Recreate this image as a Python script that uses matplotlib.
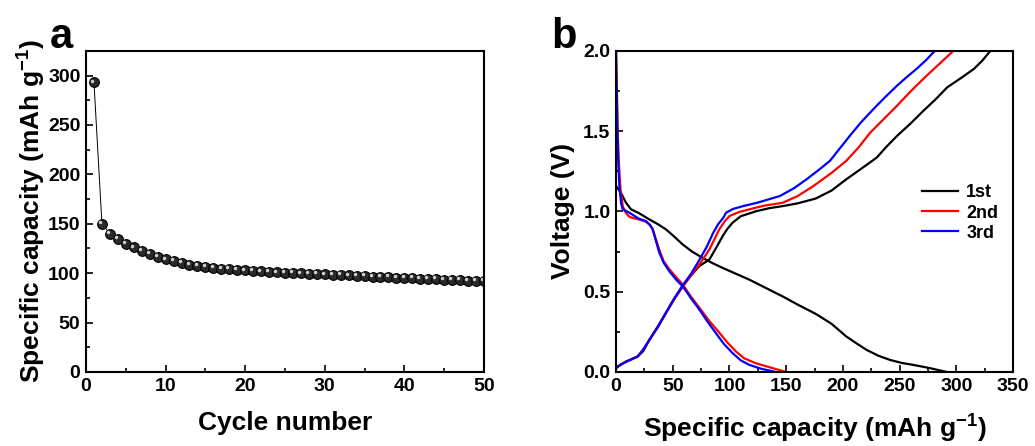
import numpy as np
import matplotlib.pyplot as plt
import matplotlib.transforms as mtransforms
from matplotlib.ticker import MultipleLocator

plt.rcParams['font.family'] = ['Liberation Sans', 'DejaVu Sans']
plt.rcParams['font.weight'] = 'bold'
plt.rcParams['axes.labelweight'] = 'bold'
plt.rcParams['mathtext.fontset'] = 'custom'
plt.rcParams['mathtext.bf'] = 'Liberation Sans:bold'
plt.rcParams['mathtext.rm'] = 'Liberation Sans:bold'

# panel a: cycling
cycles = np.arange(1, 51)
capacity = [293, 150, 140, 134.5, 129.5, 126, 122.5, 119.5, 116.5, 114,
            112, 110, 108.5, 107, 106, 105, 104.5, 104, 103.5, 102.8,
            102.3, 101.8, 101.3, 100.8, 100.4, 100, 99.7, 99.4, 99.1, 98.8,
            98.4, 98, 97.7, 97.3, 97, 96.6, 96.3, 96, 95.6, 95.2,
            94.9, 94.5, 94.2, 93.8, 93.5, 93.1, 92.8, 92.5, 92.1, 91.8]

# panel b: voltage profiles (capacity, voltage)
dis1_cap = [0, 4, 8.8, 13.2, 20, 29.4, 37, 44, 51, 58.8, 67, 76.4, 85, 94, 117.5, 147, 160, 176, 190, 203, 212, 221, 231, 241.5, 252, 262, 276, 291.5]
dis1_v = [1.158, 1.12, 1.054, 1.013, 0.99, 0.95, 0.92, 0.888, 0.845, 0.794, 0.75, 0.71, 0.678, 0.648, 0.575, 0.47, 0.42, 0.362, 0.3, 0.221, 0.178, 0.137, 0.102, 0.075, 0.056, 0.044, 0.025, 0.0]
chg1_cap = [0, 4, 8.8, 19, 24, 29.4, 37, 44, 51, 58.8, 66, 73.5, 82.3, 88, 94, 98, 102.8, 110, 123, 135, 147, 160, 176, 190, 203, 216, 229.8, 238, 247.7, 260, 271, 282, 292, 304, 315.6, 323, 330]
chg1_v = [0.025, 0.045, 0.064, 0.096, 0.13, 0.2, 0.28, 0.367, 0.45, 0.533, 0.6, 0.66, 0.7, 0.77, 0.846, 0.89, 0.93, 0.97, 1.0, 1.02, 1.033, 1.05, 1.08, 1.13, 1.2, 1.265, 1.335, 1.4, 1.47, 1.55, 1.627, 1.7, 1.773, 1.83, 1.888, 1.94, 2.0]

dis2_cap = [0, 0.8, 1.5, 2.5, 4, 6, 8.8, 12, 20, 26.4, 30, 32.3, 35, 38.2, 42, 47, 53, 58.8, 66, 73.5, 82, 91, 98, 105.8, 113, 123.4, 135, 150]
dis2_v = [2.0, 1.75, 1.49, 1.3, 1.13, 1.03, 0.99, 0.965, 0.95, 0.935, 0.915, 0.89, 0.83, 0.76, 0.69, 0.64, 0.59, 0.545, 0.47, 0.4, 0.32, 0.245, 0.185, 0.127, 0.085, 0.054, 0.03, 0.0]
chg2_cap = [0, 4, 8.8, 19, 24, 29.4, 37, 44, 51, 58.8, 66, 73.5, 82.3, 87, 91, 96, 100, 108, 117.5, 130, 147, 160, 174, 190, 203, 214, 224, 236, 247.7, 260, 273.9, 286, 297.4]
chg2_v = [0.025, 0.045, 0.064, 0.096, 0.14, 0.2, 0.285, 0.367, 0.45, 0.533, 0.6, 0.669, 0.763, 0.83, 0.888, 0.94, 0.971, 0.995, 1.013, 1.035, 1.054, 1.095, 1.158, 1.24, 1.315, 1.4, 1.49, 1.575, 1.658, 1.75, 1.846, 1.925, 2.0]

dis3_cap = [0, 0.6, 1.2, 2, 3, 4.5, 5.9, 11.75, 20, 26.4, 30, 32.3, 35, 38.2, 42, 47, 53, 58.8, 66, 73.5, 81, 88, 95, 102.8, 110, 117.5, 128, 141]
dis3_v = [2.0, 1.75, 1.5, 1.3, 1.15, 1.05, 1.013, 0.992, 0.955, 0.94, 0.915, 0.888, 0.82, 0.742, 0.68, 0.627, 0.575, 0.533, 0.46, 0.388, 0.31, 0.242, 0.175, 0.117, 0.072, 0.044, 0.02, 0.0]
chg3_cap = [0, 4, 8.8, 19, 24, 29.4, 37, 44, 51, 58.8, 66, 72, 80, 85.7, 90, 94.5, 97, 103, 112, 125, 144.5, 157, 168, 179, 188.6, 197, 206, 216, 227, 237, 247.7, 256, 265, 273, 281]
chg3_v = [0.025, 0.045, 0.064, 0.096, 0.14, 0.2, 0.285, 0.37, 0.455, 0.54, 0.61, 0.68, 0.78, 0.867, 0.92, 0.96, 0.992, 1.015, 1.033, 1.055, 1.096, 1.145, 1.2, 1.26, 1.315, 1.39, 1.47, 1.555, 1.638, 1.71, 1.783, 1.835, 1.888, 1.94, 2.0]

fig = plt.figure(figsize=(10.35, 4.46), dpi=100)
ax1 = fig.add_axes([0.0831, 0.166, 0.3845, 0.72])
ax2 = fig.add_axes([0.5952, 0.166, 0.3836, 0.72])

for ax in (ax1, ax2):
    for sp in ax.spines.values():
        sp.set_linewidth(1.5)
    ax.tick_params(which='both', direction='in', top=False, right=False,
                   labelsize=14, width=1.2, pad=4)
    ax.tick_params(which='major', length=5)
    ax.tick_params(which='minor', length=3)

# a
ax1.plot(cycles, capacity, color='black', lw=0.7)
ax1.plot(cycles, capacity, 'o', ms=7, mfc='#2a2a2a', mec='black', mew=0.8)
shine = ax1.transData + mtransforms.ScaledTranslation(-1.3 / 72, 1.3 / 72, fig.dpi_scale_trans)
ax1.plot(cycles, capacity, 'o', ms=2.5, mfc='#d0d0d0', mec='none', transform=shine)
ax1.set_xlim(0, 50)
ax1.set_ylim(0, 325)
ax1.xaxis.set_major_locator(MultipleLocator(10))
ax1.xaxis.set_minor_locator(MultipleLocator(5))
ax1.yaxis.set_major_locator(MultipleLocator(50))
ax1.yaxis.set_minor_locator(MultipleLocator(25))
ax1.set_xlabel('Cycle number', fontsize=19, labelpad=12)
ax1.set_ylabel('Specific capacity (mAh g$^{\\mathbf{-1}}$)', fontsize=19, labelpad=1)
fig.text(0.048, 0.892, 'a', fontsize=30, fontweight='bold')

# b
lw = 1.6
ax2.plot(dis1_cap, dis1_v, color='black', lw=lw, label='1st')
ax2.plot(chg1_cap, chg1_v, color='black', lw=lw)
ax2.plot(dis2_cap, dis2_v, color='red', lw=lw, label='2nd')
ax2.plot(chg2_cap, chg2_v, color='red', lw=lw)
ax2.plot(dis3_cap, dis3_v, color='blue', lw=lw, label='3rd')
ax2.plot(chg3_cap, chg3_v, color='blue', lw=lw)
ax2.set_xlim(0, 350)
ax2.set_ylim(0, 2.0)
ax2.xaxis.set_major_locator(MultipleLocator(50))
ax2.xaxis.set_minor_locator(MultipleLocator(25))
ax2.yaxis.set_major_locator(MultipleLocator(0.5))
ax2.yaxis.set_minor_locator(MultipleLocator(0.25))
ax2.set_xlabel('Specific capacity (mAh g$^{\\mathbf{-1}}$)', fontsize=19, labelpad=12)
ax2.set_ylabel('Voltage (V)', fontsize=19, labelpad=6)
ax2.legend(loc='upper left', bbox_to_anchor=(0.73, 0.635), frameon=False,
           handlelength=2.0, handletextpad=0.45, labelspacing=0.18,
           prop={'weight': 'bold', 'size': 13})
fig.text(0.533, 0.892, 'b', fontsize=30, fontweight='bold')

fig.savefig('out.png', dpi=100)
